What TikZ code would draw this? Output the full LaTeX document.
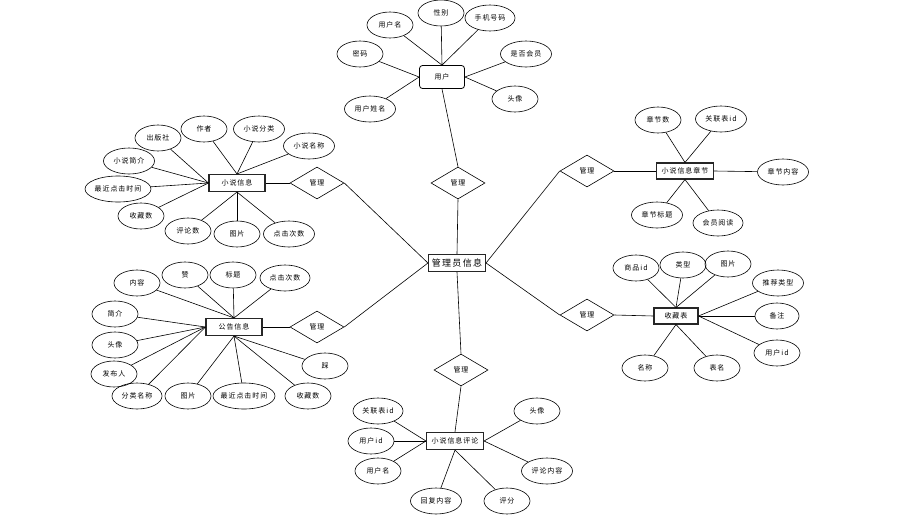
\documentclass[tikz,border=0pt]{standalone}
\usepackage{fontspec}
\setmainfont{Noto Sans CJK SC}[LetterSpace=14]
\usetikzlibrary{shapes.geometric}
\tikzset{
  attr/.style={ellipse, draw, line width=0.6pt, minimum width=46pt, minimum height=26pt, inner sep=0pt, font=\fontsize{7}{8}\selectfont},
  wide/.style={minimum width=51pt},
  ent/.style={rectangle, draw, line width=1.1pt, draw=black!85, minimum width=56pt, minimum height=17pt, inner sep=1pt, font=\fontsize{7}{8}\selectfont},
  rel/.style={diamond, draw, line width=0.6pt, minimum width=54pt, minimum height=32pt, inner sep=0pt, font=\fontsize{7}{8}\selectfont},
  link/.style={line width=0.6pt}
}
\begin{document}
\begin{tikzpicture}[x=1pt,y=-1pt]
\useasboundingbox (0,0) rectangle (922,525);
\fill[white] (0,0) rectangle (922,525);

% central
\node[ent, minimum width=57pt, font=\fontsize{9}{10}\selectfont, inner sep=0.5pt] (m) at (457,263) {管理员信息};

% relationships
\node[rel] (d1) at (458,183) {管理};
\node[rel] (d2) at (317,183) {管理};
\node[rel] (d6) at (317,327) {管理};
\node[rel] (d3) at (587,171) {管理};
\node[rel] (d4) at (587,315) {管理};
\node[rel] (d5) at (461,370) {管理};

% user
\node[draw, line width=0.8pt, rounded corners=3pt, minimum width=45pt, minimum height=23pt, font=\fontsize{7}{8}\selectfont] (u) at (442,77) {用户};
\node[attr] (u1) at (441,13) {性别};
\node[attr] (u2) at (390,25) {用户名};
\node[attr, minimum width=50pt] (u3) at (490,18) {手机号码};
\node[attr] (u4) at (360,54) {密码};
\node[attr, wide] (u5) at (526,54) {是否会员};
\node[attr] (u6) at (515,99) {头像};
\node[attr, wide] (u7) at (370,109) {用户姓名};
\foreach \a in {u1,u2,u3} \draw[link] (\a) -- (u.north);
\foreach \a in {u4,u7} \draw[link] (\a) -- (u.west);
\foreach \a in {u5,u6} \draw[link] (\a) -- (u.east);

% novel info
\node[ent] (n) at (237,183) {小说信息};
\node[attr] (n1) at (158,138) {出版社};
\node[attr] (n2) at (204,129) {作者};
\node[attr, wide] (n3) at (259,129) {小说分类};
\node[attr, wide] (n4) at (309,146) {小说名称};
\node[attr, wide] (n5) at (129,161) {小说简介};
\node[attr, minimum width=66pt, inner xsep=-1.5pt] (n6) at (118,189) {最近点击时间};
\node[attr] (n7) at (141,216) {收藏数};
\node[attr] (n8) at (188,231) {评论数};
\node[attr] (n9) at (237,234) {图片};
\node[attr, wide] (n10) at (289,234) {点击次数};
\foreach \a in {n2,n3,n4} \draw[link] (\a) -- (n.north);
\foreach \a in {n1,n5,n6,n7} \draw[link] (\a) -- (n.west);
\foreach \a in {n8,n9,n10} \draw[link] (\a) -- (n.south);

% announcement
\node[ent] (g) at (234,327) {公告信息};
\node[attr] (g1) at (137,283) {内容};
\node[attr] (g2) at (185,275) {赞};
\node[attr] (g3) at (233,275) {标题};
\node[attr, minimum width=50pt] (g4) at (285,278) {点击次数};
\node[attr] (g5) at (115,314) {简介};
\node[attr] (g6) at (115,345) {头像};
\node[attr] (g7) at (114,374) {发布人};
\node[attr, minimum width=50pt] (g8) at (137,396) {分类名称};
\node[attr] (g9) at (188,396) {图片};
\node[attr, minimum width=62pt, inner xsep=-3pt] (g10) at (244,396) {最近点击时间};
\node[attr] (g11) at (308,396) {收藏数};
\node[attr] (g12) at (325,366) {踩};
\foreach \a in {g1,g2,g3,g4} \draw[link] (\a) -- (g.north);
\foreach \a in {g5,g6,g7,g8} \draw[link] (\a) -- (g.west);
\foreach \a in {g9,g10,g11,g12} \draw[link] (\a) -- (g.south);

% chapter
\node[ent, minimum width=57pt, minimum height=16pt, inner sep=0.5pt] (c) at (685,171) {小说信息章节};
\node[attr] (c1) at (658,120) {章节数};
\node[attr, wide] (c2) at (721,119) {关联表id};
\node[attr, wide] (c3) at (783,172) {章节内容};
\node[attr, wide] (c4) at (657,215) {章节标题};
\node[attr, minimum width=50pt] (c5) at (718,223) {会员阅读};
\foreach \a in {c1,c2} \draw[link] (\a) -- (c.north);
\foreach \a in {c4,c5} \draw[link] (\a) -- (c.south);
\draw[link] (c3) -- (c.east);

% favorites
\node[ent, minimum width=44pt, minimum height=16pt] (f) at (676,316) {收藏表};
\node[attr] (f1) at (636,268) {商品id};
\node[attr] (f2) at (683,265) {类型};
\node[attr] (f3) at (728,264) {图片};
\node[attr, wide] (f4) at (778,283) {推荐类型};
\node[attr, minimum width=44pt] (f5) at (777,316) {备注};
\node[attr] (f6) at (777,353) {用户id};
\node[attr] (f7) at (645,368) {名称};
\node[attr] (f8) at (717,368) {表名};
\foreach \a in {f1,f2,f3} \draw[link] (\a) -- (f.north);
\foreach \a in {f4,f5,f6} \draw[link] (\a) -- (f.east);
\foreach \a in {f7,f8} \draw[link] (\a) -- (f.south);

% comments
\node[ent, minimum width=57pt, inner sep=0.5pt] (r) at (455,441) {小说信息评论};
\node[attr, minimum width=50pt] (r1) at (378,411) {关联表id};
\node[attr] (r2) at (371,441) {用户id};
\node[attr] (r3) at (378,471) {用户名};
\node[attr] (r4) at (537,411) {头像};
\node[attr, wide] (r5) at (547,471) {评论内容};
\node[attr, wide] (r6) at (436,501) {回复内容};
\node[attr] (r7) at (507,501) {评分};
\foreach \a in {r1,r2,r3} \draw[link] (\a) -- (r.west);
\foreach \a in {r4,r5} \draw[link] (\a) -- (r.east);
\foreach \a in {r6,r7} \draw[link] (\a) -- (r.south);

% relationship links
\draw[link] (m.north) -- (d1.south);
\draw[link] (d1.north) -- (u.south);
\draw[link] (m.west) -- (d2.east);
\draw[link] (d2.west) -- (n.east);
\draw[link] (m.west) -- (d6.east);
\draw[link] (d6.west) -- (g.east);
\draw[link] (m.east) -- (d3.west);
\draw[link] (d3.east) -- (c.west);
\draw[link] (m.east) -- (d4.west);
\draw[link] (d4.east) -- (f.west);
\draw[link] (m.south) -- (d5.north);
\draw[link] (d5.south) -- (r.north);
\end{tikzpicture}
\end{document}
